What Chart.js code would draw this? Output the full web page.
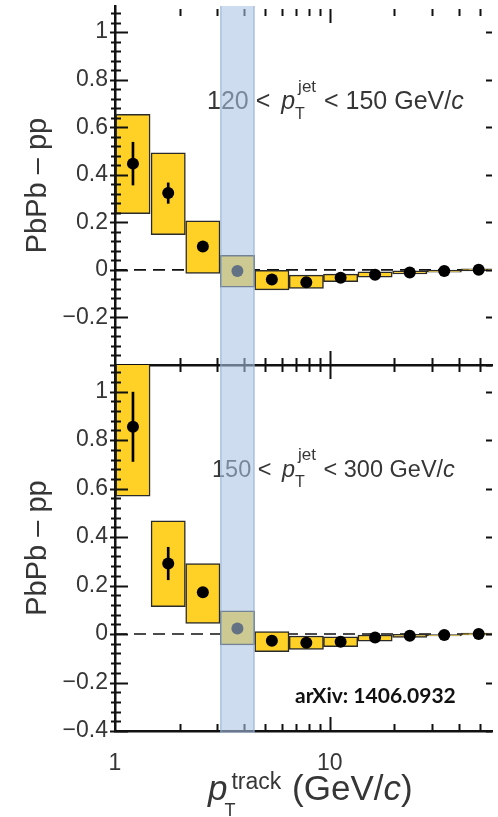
<!DOCTYPE html>
<html>
<head>
<meta charset="utf-8">
<script src="https://cdn.jsdelivr.net/npm/chart.js@4.4.1/dist/chart.umd.min.js"></script>
<style>
  html, body { margin: 0; padding: 0; background: #fff; }
  body { width: 498px; height: 817px; position: relative; overflow: hidden; }
  canvas { position: absolute; left: 0; }
  #topPanel { top: 0; }
  #bottomPanel { top: 355px; }
</style>
</head>
<body>
<canvas id="topPanel" width="498" height="382"></canvas>
<canvas id="bottomPanel" width="498" height="462"></canvas>
<script>
// pT track bins (GeV/c)
const xMin = 1, xMax = 57;
const binEdges = [1, 1.47, 2.13, 3.09, 4.47, 6.47, 9.36, 13.5, 19.6, 28.4, 41.1, 59.4];

// 120 < pT jet < 150 GeV/c
const lowJetValues = [0.447, 0.323, 0.098, -0.005, -0.040, -0.052, -0.033, -0.020, -0.011, -0.005, 0.001];
const lowJetStat   = [0.090, 0.043, 0.015, 0.010, 0.008, 0.008, 0.006, 0.005, 0.004, 0.004, 0.004];
const lowJetSysLo  = [0.237, 0.148, -0.015, -0.073, -0.084, -0.078, -0.050, -0.031, -0.017, -0.010, -0.004];
const lowJetSysHi  = [0.654, 0.492, 0.206, 0.061, 0.000, -0.022, -0.018, -0.008, -0.004, -0.001, 0.005];

// 150 < pT jet < 300 GeV/c
const highJetValues = [0.855, 0.291, 0.172, 0.023, -0.028, -0.036, -0.032, -0.014, -0.007, -0.004, 0.000];
const highJetStat   = [0.143, 0.067, 0.020, 0.012, 0.010, 0.008, 0.006, 0.005, 0.004, 0.004, 0.004];
const highJetSysLo  = [0.569, 0.113, 0.044, -0.045, -0.073, -0.063, -0.052, -0.029, -0.014, -0.008, -0.004];
const highJetSysHi  = [1.140, 0.467, 0.291, 0.096, 0.010, -0.008, -0.011, -0.004, -0.001, 0.000, 0.004];

// axes
const yMin = -0.4, yMax = 1.11;
const yTickValues = [-0.4, -0.2, 0, 0.2, 0.4, 0.6, 0.8, 1];
const topYLabels = ['', '\u22120.2', '0', '0.2', '0.4', '0.6', '0.8', '1'];
const bottomYLabels = ['\u22120.4', '\u22120.2', '0', '0.2', '0.4', '0.6', '0.8', '1'];
const xTickValues = [1, 10];
const xTickLabels = ['1', '10'];
const xMinorTicks = [2, 3, 4, 5, 6, 7, 8, 9, 20, 30, 40, 50];
const bandRange = [3.09, 4.47];

const FONT = '"Liberation Sans", Arial, sans-serif';
const TEXT = '#363636';

// bin centres (geometric mean, log axis)
const centers = binEdges.slice(0, -1).map((e, i) => Math.sqrt(e * binEdges[i + 1]));

function drawRich(ctx, x, y, parts) {
    ctx.textBaseline = 'alphabetic';
    ctx.textAlign = 'left';
    for (const p of parts) {
        x += p.dx || 0;
        if (p.sub !== undefined) {
            ctx.font = p.subFont;
            ctx.fillText(p.sub, x + p.subDx, y + p.subDy);
            const ws = ctx.measureText(p.sub).width + p.subDx;
            ctx.font = p.supFont;
            ctx.fillText(p.sup, x, y + p.supDy);
            x += Math.max(ws, ctx.measureText(p.sup).width);
        } else {
            ctx.font = p.font;
            ctx.fillText(p.t, x, y);
            x += ctx.measureText(p.t).width;
        }
    }
}

function jetLabel(lo, hi, size) {
    return [
        { t: lo + ' < ', font: `${size}px ${FONT}` },
        { t: 'p', font: `italic ${size}px ${FONT}`, dx: 4 },
        { sub: 'T', sup: 'jet', subFont: `16px ${FONT}`, supFont: `17px ${FONT}`, dx: 3, subDx: -3, subDy: 10, supDy: -17 },
        { t: ' < ' + hi + ' GeV/', font: `${size}px ${FONT}`, dx: 1 },
        { t: 'c', font: `italic ${size}px ${FONT}` }
    ];
}

// ticks, band and text that Chart.js has no option for
function makeDecor(cfg) {
    return {
        id: 'decor',
        afterDatasetsDraw(chart) {
            const ctx = chart.ctx;
            ctx.save();
            ctx.fillStyle = TEXT;
            drawRich(ctx, cfg.label.x, cfg.label.y, cfg.label.parts);
            if (cfg.arxiv) {
                ctx.fillStyle = '#111';
                ctx.font = `bold 21px Lato, ${FONT}`;
                ctx.fillText('arXiv: 1406.0932', cfg.arxiv.x, cfg.arxiv.y);
            }
            ctx.restore();
        },
        afterDraw(chart) {
            const { ctx, chartArea: a, scales: { x, y } } = chart;
            ctx.save();
            ctx.strokeStyle = '#111';
            ctx.lineWidth = 2;
            ctx.beginPath();
            // y ticks, minor every 0.04
            for (let k = -10; k <= 27; k++) {
                const v = k * 0.04;
                const py = Math.round(y.getPixelForValue(v)) + 0.5;
                const major = k % 5 === 0;
                ctx.moveTo(a.left - (major ? 5 : 4), py);
                ctx.lineTo(a.left + (major ? 13 : 6), py);
                if (major) {
                    ctx.moveTo(a.right - 6, py);
                    ctx.lineTo(a.right, py);
                }
            }
            // x ticks
            const xt = xMinorTicks.map(v => [v, false]).concat([[10, true]]);
            for (const [v, major] of xt) {
                const px = Math.round(x.getPixelForValue(v)) + 0.5;
                const len = major ? 14 : 7;
                if (cfg.topTicks) {
                    ctx.moveTo(px, a.top + 3);
                    ctx.lineTo(px, a.top + 3 + len);
                }
                if (cfg.bottomTicks === 'both') {
                    ctx.moveTo(px, a.bottom - len);
                    ctx.lineTo(px, a.bottom + len);
                } else {
                    ctx.moveTo(px, a.bottom - len);
                    ctx.lineTo(px, a.bottom);
                }
            }
            ctx.stroke();

            // highlighted pT track bin
            const bx0 = x.getPixelForValue(bandRange[0]);
            const bx1 = x.getPixelForValue(bandRange[1]);
            const by1 = a.bottom + cfg.bandExtra;
            ctx.fillStyle = 'rgba(168, 194, 226, 0.58)';
            ctx.fillRect(bx0, a.top, bx1 - bx0, by1 - a.top);
            ctx.strokeStyle = 'rgba(140, 170, 212, 0.55)';
            ctx.lineWidth = 1.5;
            ctx.beginPath();
            ctx.moveTo(bx0 + 0.75, a.top); ctx.lineTo(bx0 + 0.75, by1);
            ctx.moveTo(bx1 - 0.75, a.top); ctx.lineTo(bx1 - 0.75, by1);
            ctx.stroke();

            if (cfg.xTitle) {
                ctx.fillStyle = TEXT;
                drawRich(ctx, cfg.xTitle.x, cfg.xTitle.y, [
                    { t: 'p', font: `italic 35px ${FONT}` },
                    { sub: 'T', sup: 'track', subFont: `18px ${FONT}`, supFont: `23px ${FONT}`, dx: 4, subDx: -7, subDy: 16, supDy: -11 },
                    { t: ' (GeV/', font: `35px ${FONT}`, dx: 1 },
                    { t: 'c', font: `italic 35px ${FONT}` },
                    { t: ')', font: `35px ${FONT}` }
                ]);
            }
            ctx.restore();
        }
    };
}

function buildPanel(canvasId, vals, stat, sysLo, sysHi, cfg) {
    return new Chart(document.getElementById(canvasId), {
        type: 'scatter',
        data: {
            datasets: [
                {
                    type: 'scatter',
                    data: centers.map((x, i) => ({ x, y: vals[i] })),
                    backgroundColor: '#000',
                    borderColor: '#000',
                    pointRadius: 6,
                    pointBorderWidth: 0,
                    order: 0
                },
                {
                    type: 'bar',
                    data: centers.map((x, i) => ({ x, y: [vals[i] - stat[i], vals[i] + stat[i]] })),
                    backgroundColor: '#000',
                    barThickness: 2,
                    grouped: false,
                    clip: 0,
                    order: 1
                },
                {
                    type: 'bar',
                    data: centers.map((x, i) => ({ x, y: [sysLo[i], sysHi[i]] })),
                    backgroundColor: '#ffd126',
                    borderColor: '#2a2a2a',
                    borderWidth: 1.5,
                    borderSkipped: false,
                    categoryPercentage: 1,
                    barPercentage: 1,
                    clip: 0,
                    order: 2
                },
                {
                    type: 'line',
                    data: [{ x: xMin, y: 0 }, { x: xMax, y: 0 }],
                    borderColor: '#111',
                    borderWidth: 1.6,
                    borderDash: [12, 7],
                    pointRadius: 0,
                    order: 3
                }
            ]
        },
        options: {
            responsive: false,
            animation: false,
            events: [],
            layout: { padding: cfg.padding },
            plugins: { legend: { display: false }, tooltip: { enabled: false } },
            scales: {
                x: {
                    type: 'logarithmic',
                    min: xMin,
                    max: xMax,
                    offset: false,
                    grid: { drawOnChartArea: false, drawTicks: false, offset: false },
                    border: { display: true, color: '#111', width: 2.5 },
                    afterBuildTicks: s => { s.ticks = xTickValues.map(v => ({ value: v })); },
                    ticks: {
                        display: cfg.showX,
                        autoSkip: false,
                        maxRotation: 0,
                        padding: 19,
                        color: TEXT,
                        font: { family: FONT, size: 23 },
                        callback: (v, i) => xTickLabels[i]
                    },
                    afterFit: s => {
                        s.height = cfg.xHeight;
                        s.paddingLeft = 0;
                        s.paddingRight = 0;
                    }
                },
                y: {
                    type: 'linear',
                    min: yMin,
                    max: yMax,
                    grid: { drawOnChartArea: false, drawTicks: false },
                    border: { display: true, color: '#111', width: 2.5 },
                    afterBuildTicks: s => { s.ticks = yTickValues.map(v => ({ value: v })); },
                    ticks: {
                        padding: 7,
                        color: TEXT,
                        font: { family: FONT, size: 23 },
                        callback: (v, i) => cfg.yLabels[i]
                    },
                    title: {
                        display: true,
                        text: 'PbPb \u2013 pp',
                        color: TEXT,
                        font: { family: FONT, size: 29 },
                        padding: { top: 21, bottom: 0 }
                    },
                    afterFit: s => {
                        s.width = 115;
                        s.paddingTop = 0;
                        s.paddingBottom = 0;
                    }
                }
            }
        },
        plugins: [makeDecor(cfg)]
    });
}

buildPanel('topPanel', lowJetValues, lowJetStat, lowJetSysLo, lowJetSysHi, {
    padding: { top: 0, bottom: 17, left: 0, right: 0 },
    showX: false,
    xHeight: 0,
    yLabels: topYLabels,
    topTicks: true,
    bottomTicks: 'both',
    bandExtra: 0,
    label: { x: 207, y: 109, parts: jetLabel('120', '150', 25) }
});

buildPanel('bottomPanel', highJetValues, highJetStat, highJetSysLo, highJetSysHi, {
    padding: { top: 10, bottom: 0, left: 0, right: 0 },
    showX: true,
    xHeight: 86,
    yLabels: bottomYLabels,
    topTicks: false,
    bottomTicks: 'up',
    bandExtra: 2,
    label: { x: 212, y: 122, parts: jetLabel('150', '300', 23.5) },
    arxiv: { x: 295, y: 348 },
    xTitle: { x: 208, y: 445 }
});
</script>
</body>
</html>
